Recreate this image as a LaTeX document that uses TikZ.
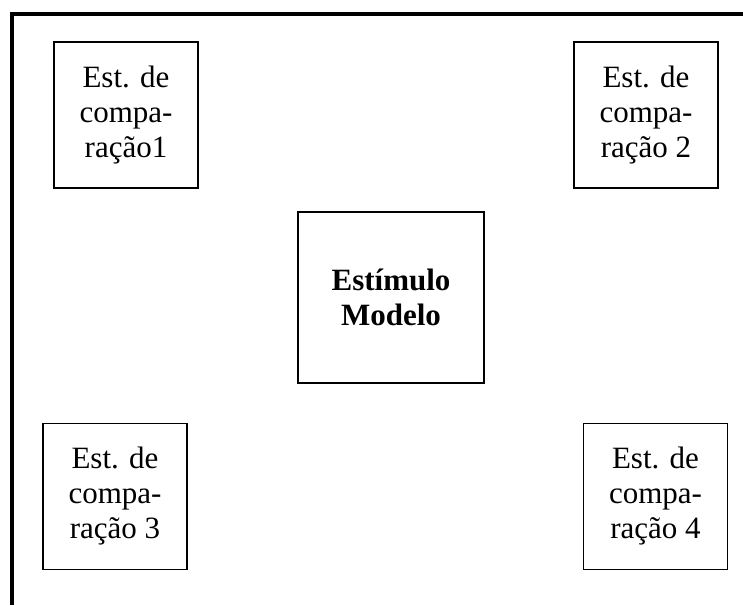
\documentclass[tikz,border=0pt]{standalone}
\usepackage{fontspec}
\setmainfont{Liberation Serif}
\usepackage{tikz}
\usetikzlibrary{positioning}

\begin{document}
\begin{tikzpicture}[
    x=1pt, y=-1pt,
    comparacao/.style={rectangle, draw, line width=1.5pt, minimum width=144pt, minimum height=146pt, inner sep=0pt, align=center, font=\fontsize{31}{35}\selectfont},
    modelo/.style={rectangle, draw, line width=1.5pt, minimum width=186pt, minimum height=171pt, inner sep=0pt, align=center, font=\fontsize{31}{35}\selectfont\bfseries},
    moldura/.style={line width=4pt}
]
    \useasboundingbox (0,0) rectangle (743,605);

    % Moldura
    \coordinate (canto) at (12,14);
    \draw[moldura] (743,14) -- (canto) -- (12,605);

    % Estimulo modelo
    \node[modelo] (centro) at (391,297.5) {Estímulo\\Modelo};

    % Estimulos de comparacao
    \node[comparacao] (comp1) at (126,115) {Est. de\\compa-\\ração1};
    \node[comparacao] (comp2) at (646,115) {Est. de\\compa-\\ração 2};
    \node[comparacao] (comp3) at (115,496.5) {Est. de\\compa-\\ração 3};
    \node[comparacao] (comp4) at (655.5,496.5) {Est. de\\compa-\\ração 4};
\end{tikzpicture}
\end{document}
